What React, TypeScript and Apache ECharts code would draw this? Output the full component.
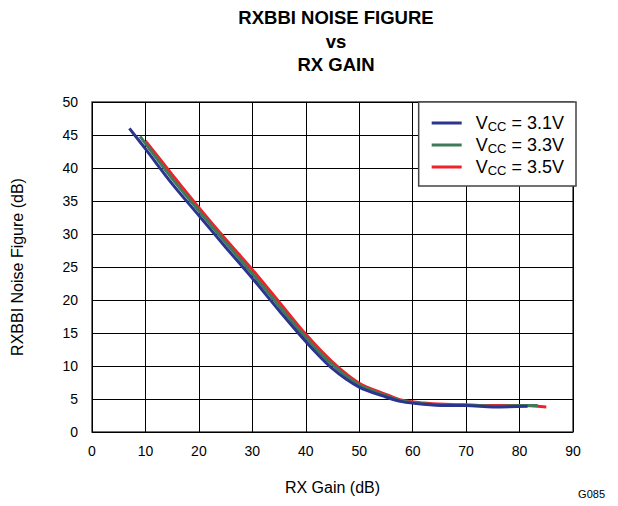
import React, { useEffect, useRef } from "react";
import * as echarts from "echarts";

const titleLines = ["RXBBI NOISE FIGURE", "vs", "RX GAIN"];
const xAxisName = "RX Gain (dB)";
const yAxisName = "RXBBI Noise Figure (dB)";
const figureId = "G085";

const seriesNames = ["3.1V", "3.3V", "3.5V"];
const seriesColors = ["#2B3590", "#3E7A57", "#EE2229"];

const vcc31: [number, number][] = [
  [7, 46], [10, 42.9], [15, 37.6], [20, 32.8], [25, 28.0], [30, 23.3], [35, 18.4],
  [40, 13.7], [45, 9.6], [50, 6.8], [55, 5.3], [58, 4.6], [62, 4.2], [66, 4.0],
  [70, 4.0], [75, 3.8], [81.5, 3.9],
];
const vcc33: [number, number][] = [
  [9, 44.8], [15, 38.4], [20, 33.5], [25, 28.7], [30, 24.0], [35, 19.1],
  [40, 14.3], [45, 10.2], [50, 7.1], [55, 5.5], [58, 4.7], [62, 4.3], [66, 4.1],
  [70, 4.1], [75, 3.9], [80, 4.0], [83.4, 4.0],
];
const vcc35: [number, number][] = [
  [10, 44.1], [15, 39.0], [20, 34.0], [25, 29.2], [30, 24.6], [35, 19.7],
  [40, 14.8], [45, 10.6], [50, 7.4], [55, 5.7], [58, 4.8], [62, 4.4], [66, 4.2],
  [70, 4.1], [75, 4.0], [80, 4.0], [85, 3.8],
];
const seriesData = [vcc31, vcc33, vcc35];

const FONT = "Liberation Sans, Arial, sans-serif";

export default function App() {
  const ref = useRef<HTMLDivElement>(null);
  useEffect(() => {
    if (!ref.current) return;
    const chart = echarts.init(ref.current, null, { renderer: "svg" });
    chart.setOption({
      animation: false,
      backgroundColor: "#ffffff",
      textStyle: { fontFamily: FONT },
      title: {
        text: titleLines.join("\n"),
        left: 331,
        textAlign: "center",
        top: 1,
        textStyle: {
          fontFamily: FONT,
          fontWeight: "bold",
          fontSize: 18.5,
          lineHeight: 23.5,
          color: "#000",
        },
      },
      grid: {
        left: 92,
        right: 45,
        top: 102,
        bottom: 74,
        show: true,
        borderColor: "#444",
        borderWidth: 1.5,
        backgroundColor: "#fff",
      },
      legend: {
        right: 42,
        top: 102,
        orient: "vertical",
        backgroundColor: "#fff",
        borderColor: "#444",
        borderWidth: 1.5,
        padding: [12, 12, 9, 13],
        itemGap: 3,
        itemWidth: 30,
        itemHeight: 3,
        icon: "rect",
        data: seriesNames.map((n) => ({ name: n })),
        formatter: (name: string) => `{v|V}{s|CC}{v| = ${name}}`,
        textStyle: {
          fontFamily: FONT,
          color: "#000",
          padding: [0, 0, 0, 9],
          rich: {
            v: { fontFamily: FONT, fontSize: 18, lineHeight: 20, color: "#000" },
            s: { fontFamily: FONT, fontSize: 13, lineHeight: 12, color: "#000", verticalAlign: "bottom" },
          },
        },
      },
      xAxis: {
        type: "value",
        min: 0,
        max: 90,
        interval: 10,
        name: xAxisName,
        nameLocation: "middle",
        nameGap: 47,
        nameTextStyle: { fontFamily: FONT, fontSize: 16, color: "#000" },
        axisLine: { show: false },
        axisTick: { show: false },
        axisLabel: { fontFamily: FONT, fontSize: 14, color: "#000", margin: 12 },
        splitLine: { show: true, lineStyle: { color: "#000", width: 1 } },
      },
      yAxis: {
        type: "value",
        min: 0,
        max: 50,
        interval: 5,
        name: yAxisName,
        nameLocation: "middle",
        nameGap: 67,
        nameRotate: 90,
        nameTextStyle: { fontFamily: FONT, fontSize: 16, color: "#000" },
        axisLine: { show: false },
        axisTick: { show: false },
        axisLabel: { fontFamily: FONT, fontSize: 14, color: "#000", margin: 14 },
        splitLine: { show: true, lineStyle: { color: "#000", width: 1 } },
      },
      graphic: [
        {
          type: "text",
          right: 13,
          top: 488,
          style: { text: figureId, font: `11px ${FONT}`, fill: "#000" },
        },
      ],
      series: seriesNames.map((n, i) => ({
        name: n,
        type: "line",
        data: seriesData[i],
        smooth: 0.3,
        symbol: "none",
        color: seriesColors[i],
        lineStyle: { color: seriesColors[i], width: 3 },
        z: 2 + (2 - i),
      })),
    });
    return () => chart.dispose();
  }, []);
  return <div ref={ref} style={{ width: 618, height: 506, position: "absolute", left: 0, top: 0 }} />;
}
